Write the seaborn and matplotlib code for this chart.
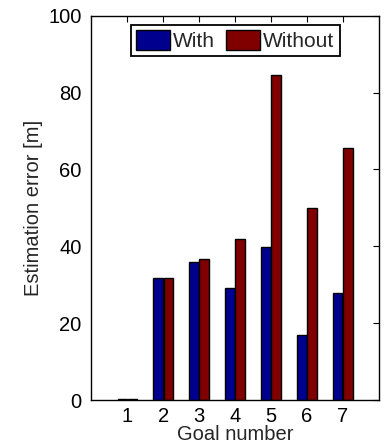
import numpy as np
import pandas as pd
import matplotlib
matplotlib.use("Agg")
import matplotlib.pyplot as plt
import seaborn as sns

goals = [1, 2, 3, 4, 5, 6, 7]
with_vals = [0.2, 31.8, 35.8, 29.1, 39.7, 17.0, 27.8]
without_vals = [0.2, 31.8, 36.8, 41.9, 84.6, 50.0, 65.6]
series_names = ["With", "Without"]
colors = ["#00008F", "#800000"]

df = pd.DataFrame({
    "goal": goals * 2,
    "error": with_vals + without_vals,
    "series": [series_names[0]] * len(goals) + [series_names[1]] * len(goals),
})

sns.set_style("white")
plt.rcParams["font.family"] = ["Liberation Sans", "DejaVu Sans"]

fig = plt.figure(figsize=(3.85, 4.48), dpi=100)
ax = fig.add_axes([0.237, 0.107, 0.747, 0.858])

sns.barplot(data=df, x="goal", y="error", hue="series", hue_order=series_names,
            palette=colors, native_scale=True, width=0.56, gap=0.08,
            edgecolor="black", linewidth=1.0, saturation=1, ax=ax, errorbar=None)

ax.set_xlim(0, 8)
ax.set_ylim(0, 100)
ax.set_xticks(goals)
ax.set_xticklabels([str(g) for g in goals])
ax.set_yticks([0, 20, 40, 60, 80, 100])
ax.tick_params(direction="in", length=4, width=0.8, top=True, right=True,
               labelsize=14.5, colors="black")
ax.tick_params(axis="x", pad=5)
ax.tick_params(axis="y", pad=7)
for s in ax.spines.values():
    s.set_visible(True)
    s.set_color("black")
    s.set_linewidth(1.0)

ax.set_xlabel("Goal number", fontsize=14.5, labelpad=-1)
ax.set_ylabel("Estimation error [m]", fontsize=14.5, labelpad=4)

leg = ax.legend(loc="upper center", ncol=2, fontsize=15, frameon=True,
                fancybox=False, edgecolor="black", handlelength=1.65,
                handleheight=1.05, handletextpad=0.15, columnspacing=0.5,
                borderpad=0.25, borderaxespad=0.45, shadow=False)
leg.get_frame().set_linewidth(1.3)
leg.get_frame().set_alpha(1)

fig.savefig("out.png", dpi=100)
